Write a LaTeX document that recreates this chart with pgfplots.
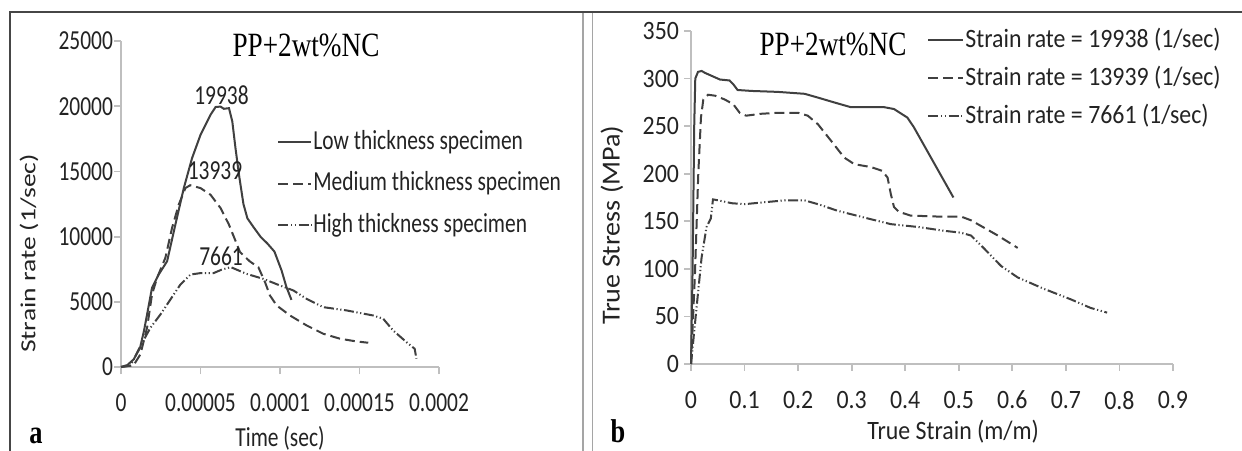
\documentclass[border=0pt]{standalone}
\usepackage{pgfplots}
\pgfplotsset{compat=1.18}
\usepackage{fontspec}
\setmainfont{Carlito}[FakeStretch=0.78]
\newfontfamily\calrot{Carlito}[FakeStretch=1.28]
\newfontfamily\calb{Carlito}[FakeStretch=0.9]
\newfontfamily\calbrot{Carlito}[FakeStretch=1.08]
\newfontfamily\timesf{Liberation Serif}[FakeStretch=0.8]
\definecolor{axgray}{RGB}{191,191,191}
\definecolor{linegray}{RGB}{64,64,64}
\definecolor{txt}{RGB}{35,35,35}
\definecolor{framecol}{RGB}{70,70,70}
\definecolor{divcol}{RGB}{165,165,165}
\newcommand{\tfont}{\fontsize{13.75bp}{16bp}\selectfont}
\newcommand{\rfont}{\calrot\fontsize{10.75bp}{13bp}\selectfont}
\newcommand{\bfont}{\calb\fontsize{13.25bp}{16bp}\selectfont}
\newcommand{\brfont}{\calbrot\fontsize{13bp}{15bp}\selectfont}
\newcommand{\ttl}{\timesf\fontsize{17bp}{20bp}\selectfont}
\pgfplotsset{
  excel/.style={
    scale only axis,
    axis x line=bottom, axis y line=left,
    axis line style={-, draw=axgray, line width=0.9bp},
    tick style={draw=axgray, line width=0.9bp},
    major tick length=3.5bp,
    tick align=outside,
    scaled x ticks=false, scaled y ticks=false,
    tick label style={font=\tfont, text=txt},
    xticklabel style={yshift=-6.5bp},
    /pgf/number format/assume math mode=true,
    label style={font=\tfont, text=txt},
    clip=false,
    legend cell align=left,
    legend style={draw=none, fill=none, font=\tfont, text=txt, inner xsep=0pt, inner ysep=0pt,
       nodes={inner xsep=0.5bp, inner ysep=0pt, text height=10bp, text depth=3bp}},
  },
  s1/.style={linegray, line width=1bp, solid},
  s2/.style={linegray, line width=1bp, dash pattern=on 5bp off 2.5bp},
  s3/.style={linegray, line width=1bp, dash pattern=on 5bp off 1.3bp on 0.6bp off 1.3bp on 0.6bp off 1.3bp},
}
\begin{document}
\begin{tikzpicture}
\useasboundingbox (0,0) rectangle (621bp,225.5bp);
\fill[white] (0,0) rectangle (621bp,225.5bp);
% frame
\draw[framecol, line width=1.2bp] (5bp,0) -- (5bp,219.5bp) -- (621bp,219.5bp);
\draw[divcol, line width=1.2bp] (291.6bp,0) -- (291.6bp,219bp);
\draw[divcol, line width=0.8bp] (296.2bp,0) -- (296.2bp,219bp);

% ---------------- panel a
\begin{axis}[excel, at={(60.5bp,42bp)}, anchor=south west, width=159bp, height=163bp,
  xmin=0, xmax=0.0002, ymin=0, ymax=25000,
  xtick={0,0.00005,0.0001,0.00015,0.0002}, xticklabels={0,0.00005,0.0001,0.00015,0.0002},
  ytick={0,5000,10000,15000,20000,25000}, yticklabels={0,5000,10000,15000,20000,25000},
  yticklabel style={xshift=3bp},
  xlabel={Time (sec)}, ylabel={\rfont Strain rate (1/sec)},
  x label style={at={(axis description cs:0.5,-0.218)}, anchor=center},
  y label style={at={(axis description cs:-0.289,0.348)}, anchor=center},
  legend style={at={(axis description cs:0.4906,0.731)}, anchor=north west, row sep=7.85bp},
  legend image code/.code={\draw[#1] (0bp,0bp) -- (16.5bp,0bp);},
]
\addplot[s1] coordinates {
(0,0) (4e-6,150) (8e-6,590) (1.2e-5,1480) (1.45e-5,2800) (1.64e-5,4030) (1.95e-5,6070)
(2.37e-5,7090) (2.9e-5,8110) (3.42e-5,10920) (3.95e-5,13720) (4.47e-5,16020) (5.0e-5,17800)
(5.63e-5,19340) (5.95e-5,19938) (6.26e-5,19970) (6.47e-5,19800) (6.79e-5,19850) (7.0e-5,18830)
(7.2e-5,16790) (7.42e-5,14750) (7.7e-5,12500) (7.95e-5,11400) (8.35e-5,10700) (8.8e-5,9950)
(9.2e-5,9480) (9.65e-5,8850) (1.01e-4,7400) (1.04e-4,6150) (1.072e-4,5150)};
\addlegendentry{Low thickness specimen}
\addplot[s2] coordinates {
(0,0) (8e-6,150) (1.22e-5,970) (1.64e-5,3010) (1.95e-5,5560) (2.27e-5,6840) (2.79e-5,8370)
(3.21e-5,10660) (3.63e-5,12450) (4.05e-5,13720) (4.35e-5,13939) (5.0e-5,13720) (5.63e-5,13210)
(6.26e-5,12190) (6.79e-5,10920) (7.48e-5,8820) (8.1e-5,8100) (8.64e-5,7650) (9.06e-5,6500)
(9.37e-5,5480) (9.79e-5,4720) (1.063e-4,3950) (1.167e-4,3190) (1.272e-4,2550) (1.377e-4,2170)
(1.481e-4,1960) (1.555e-4,1860)};
\addlegendentry{Medium thickness specimen}
\addplot[s3] coordinates {
(0,0) (6e-6,100) (1.22e-5,1600) (1.85e-5,3010) (2.48e-5,4030) (3.11e-5,5180) (3.74e-5,6330)
(4.37e-5,7090) (5.0e-5,7200) (5.82e-5,7200) (6.3e-5,7450) (6.9e-5,7661) (7.9e-5,7140)
(8.95e-5,6760) (1.0e-4,6250) (1.084e-4,5870) (1.167e-4,5230) (1.272e-4,4590) (1.418e-4,4340)
(1.586e-4,3950) (1.649e-4,3700) (1.711e-4,2810) (1.795e-4,1910) (1.847e-4,1400) (1.858e-4,640)};
\addlegendentry{High thickness specimen}
\node[font=\tfont, text=txt] at (axis cs:6.32e-5,20860) {19938};
\node[font=\tfont, text=txt] at (axis cs:5.91e-5,15030) {13939};
\node[font=\tfont, text=txt] at (axis cs:6.29e-5,8475) {7661};
\end{axis}

% ---------------- panel b
\begin{axis}[excel, at={(345.5bp,43.5bp)}, anchor=south west, width=241bp, height=166.5bp,
  xmin=0, xmax=0.9, ymin=0, ymax=350,
  tick label style={font=\bfont, text=txt},
  label style={font=\bfont, text=txt},
  yticklabel style={xshift=1bp},
  xtick={0,0.1,0.2,0.3,0.4,0.5,0.6,0.7,0.8,0.9}, xticklabels={0,0.1,0.2,0.3,0.4,0.5,0.6,0.7,0.8,0.9},
  ytick={0,50,100,150,200,250,300,350}, yticklabels={0,50,100,150,200,250,300,350},
  xlabel={True Strain (m/m)}, ylabel={\brfont True Stress (MPa)},
  x label style={at={(axis description cs:0.544,-0.204)}, anchor=center},
  y label style={at={(axis description cs:-0.164,0.417)}, anchor=center},
  legend style={at={(axis description cs:0.4896,1.012)}, anchor=north west, row sep=6bp, font=\bfont},
  legend image code/.code={\draw[#1] (0bp,0bp) -- (17.5bp,0bp);},
]
\addplot[s1] coordinates {
(0,0) (0.003,100) (0.006,250) (0.008,300) (0.013,307) (0.02,308) (0.026,306) (0.038,303)
(0.054,299) (0.072,298) (0.079,294) (0.087,288) (0.113,287) (0.162,286) (0.212,284)
(0.237,280) (0.267,275) (0.298,270) (0.336,270) (0.36,270) (0.379,268) (0.404,259)
(0.416,249) (0.49,175)};
\addlegendentry{Strain rate = 19938 (1/sec)}
\addplot[s2] coordinates {
(0,0) (0.0074,95) (0.0136,200) (0.0186,259) (0.023,278) (0.032,283) (0.045,282) (0.063,278)
(0.079,273) (0.091,264) (0.103,261) (0.131,263) (0.162,264) (0.2,264) (0.218,261) (0.237,252)
(0.261,235) (0.286,217) (0.305,210) (0.336,207) (0.357,203) (0.367,196) (0.373,179) (0.379,165)
(0.388,160) (0.41,156) (0.459,155) (0.504,155) (0.523,151) (0.548,143) (0.573,135) (0.61,122)};
\addlegendentry{Strain rate = 13939 (1/sec)}
\addplot[s3] coordinates {
(0,0) (0.0105,60) (0.0198,112) (0.029,144) (0.037,153) (0.041,173) (0.051,172) (0.076,169)
(0.1,168) (0.137,170) (0.175,172) (0.212,172) (0.237,168) (0.274,161) (0.323,154) (0.373,147)
(0.424,144) (0.473,140) (0.504,138) (0.523,135) (0.548,121) (0.579,103) (0.61,91) (0.659,79)
(0.709,68) (0.746,59) (0.777,54)};
\addlegendentry{Strain rate = 7661 (1/sec)}
\end{axis}

% titles and panel letters
\node[font=\ttl] at (153bp,203bp) {PP+2wt\%NC};
\node[font=\ttl] at (416.5bp,203.5bp) {PP+2wt\%NC};
\node[font=\timesf\bfseries\fontsize{16.5bp}{18bp}\selectfont, anchor=base] at (18bp,4bp) {a};
\node[font=\timesf\bfseries\fontsize{16.5bp}{18bp}\selectfont, anchor=base] at (309bp,4.5bp) {b};
\end{tikzpicture}
\end{document}
